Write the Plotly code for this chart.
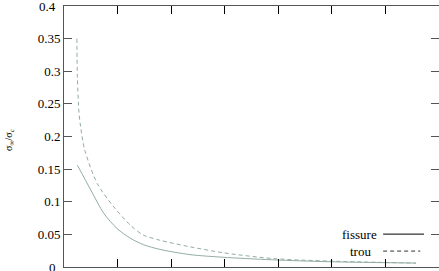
import plotly.graph_objects as go

# Data
fissure_x = [0.25, 0.50, 0.745, 0.99, 1.24, 1.49, 1.79, 2.35, 2.96, 3.89, 4.99, 6.57]
fissure_y = [0.156, 0.118, 0.082, 0.059, 0.044, 0.034, 0.027, 0.019, 0.015, 0.011, 0.008, 0.006]

trou_x = [0.24, 0.25, 0.28, 0.31, 0.385, 0.62, 0.93, 1.24, 1.48, 1.79, 2.35, 2.96, 3.89, 4.99, 6.57]
trou_y = [0.350, 0.290, 0.236, 0.215, 0.180, 0.128, 0.092, 0.064, 0.049, 0.041, 0.031, 0.022, 0.013, 0.009, 0.006]

y_ticks = [0, 0.05, 0.1, 0.15, 0.2, 0.25, 0.3, 0.35, 0.4]
y_labels = ["0", "0.05", "0.1", "0.15", "0.2", "0.25", "0.3", "0.35", "0.4"]
x_ticks = [0, 1, 2, 3, 4, 5, 6, 7]

curve_color = "#93aca4"
font_family = "Liberation Serif"

fig = go.Figure()
fig.add_trace(go.Scatter(x=fissure_x, y=fissure_y, mode="lines", name="fissure",
                         line=dict(color=curve_color, width=1, shape="spline", smoothing=0.8)))
fig.add_trace(go.Scatter(x=trou_x, y=trou_y, mode="lines", name="trou",
                         line=dict(color=curve_color, width=1, dash="4px,3px", shape="spline", smoothing=0.8)))

# Only interior labels via the axis; the edge labels (0 and 0.4) are annotations
inner_labels = ["" if v in (y_ticks[0], y_ticks[-1]) else t for v, t in zip(y_ticks, y_labels)]

fig.update_layout(
    width=439, height=271,
    margin=dict(l=64, r=0, t=6, b=4),
    paper_bgcolor="white", plot_bgcolor="white",
    showlegend=False,
    font=dict(family=font_family, size=13, color="black"),
)
fig.update_xaxes(range=[0, 7], tickvals=x_ticks, showticklabels=False,
                 ticks="inside", ticklen=8, tickcolor="black",
                 showline=True, linecolor="#555", linewidth=1, mirror="ticks",
                 showgrid=False, zeroline=False)
fig.update_yaxes(range=[0, 0.4], tickvals=y_ticks, ticktext=inner_labels,
                 ticks="inside", ticklen=8, tickcolor="#555",
                 showline=True, linecolor="#555", linewidth=1, mirror="ticks",
                 showgrid=False, zeroline=False, tickfont=dict(size=13, family=font_family))

for v in (y_ticks[0], y_ticks[-1]):
    fig.add_annotation(x=0, y=v, xref="paper", yref="y", text=y_labels[y_ticks.index(v)],
                       showarrow=False, xanchor="right", yanchor="middle", xshift=-6,
                       font=dict(size=13, family=font_family))

# y-axis label (rotated fraction)
fig.add_annotation(x=-0.144, y=0.487, xref="paper", yref="paper",
                   text="σ<sub>∞</sub>/σ<sub>c</sub>", textangle=-90, showarrow=False,
                   font=dict(size=10, family=font_family), xanchor="center", yanchor="middle")

# legend drawn manually (gnuplot style)
fig.add_annotation(x=0.84, y=0.126, xref="paper", yref="paper", text="fissure",
                   showarrow=False, xanchor="right", yanchor="middle",
                   font=dict(size=13, family=font_family))
fig.add_annotation(x=0.825, y=0.061, xref="paper", yref="paper", text="trou",
                   showarrow=False, xanchor="right", yanchor="middle",
                   font=dict(size=13, family=font_family))
fig.add_shape(type="line", xref="paper", yref="paper", x0=0.851, x1=0.96, y0=0.126, y1=0.126,
              line=dict(color="black", width=1))
fig.add_shape(type="line", xref="paper", yref="paper", x0=0.851, x1=0.95, y0=0.061, y1=0.061,
              line=dict(color="#333", width=1, dash="4px,3px"))

fig.write_html("out.html")
